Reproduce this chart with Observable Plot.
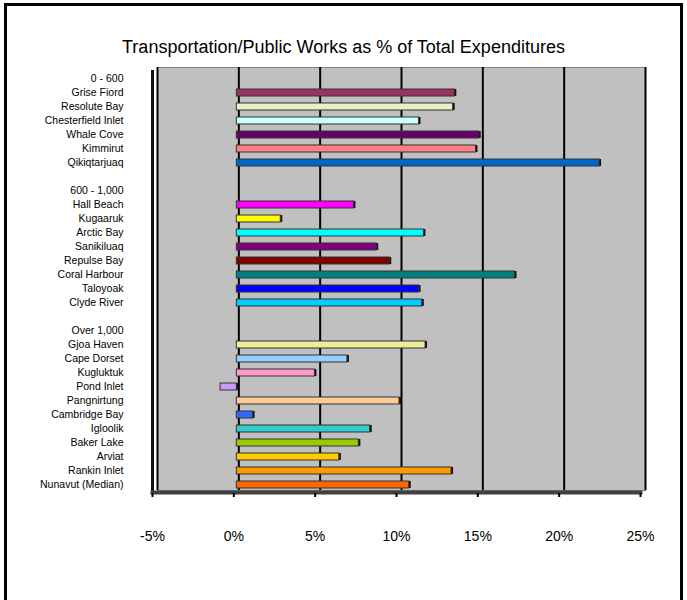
<!DOCTYPE html>
<html>
<head>
<meta charset="utf-8">
<script src="https://cdn.jsdelivr.net/npm/d3@7"></script>
<script src="https://cdn.jsdelivr.net/npm/@observablehq/plot@0.6"></script>
<style>
  html, body { margin: 0; padding: 0; background: #fff; }
  #wrap { position: relative; width: 687px; height: 600px; overflow: hidden; font-family: "Liberation Sans", Arial, sans-serif; }
  #border { position: absolute; left: 4px; top: 3px; width: 679px; height: 620px; border: 3px solid #000; box-sizing: border-box; }
  #title { position: absolute; left: 0; width: 687px; top: 37px; text-align: center; font-size: 18px; color: #000; }
  #chart { position: absolute; left: 0; top: 0; }
</style>
</head>
<body>
<div id="wrap">
  <div id="border"></div>
  <div id="chart"></div>
  <div id="title">Transportation/Public Works as % of Total Expenditures</div>
</div>
<script>
// Group headers
const groupLabels = ["0 - 600", "600 - 1,000", "Over 1,000"];

// Communities by population group (top to bottom)
const group1Names = ["Grise Fiord", "Resolute Bay", "Chesterfield Inlet", "Whale Cove", "Kimmirut", "Qikiqtarjuaq"];
const group1Values = [13.4, 13.3, 11.2, 14.9, 14.7, 22.3];

const group2Names = ["Hall Beach", "Kugaaruk", "Arctic Bay", "Sanikiluaq", "Repulse Bay", "Coral Harbour", "Taloyoak", "Clyde River"];
const group2Values = [7.2, 2.7, 11.5, 8.6, 9.4, 17.1, 11.2, 11.4];

const group3Names = ["Gjoa Haven", "Cape Dorset", "Kugluktuk", "Pond Inlet", "Pangnirtung", "Cambridge Bay", "Igloolik", "Baker Lake", "Arviat", "Rankin Inlet", "Nunavut (Median)"];
const group3Values = [11.6, 6.8, 4.8, -1.0, 10.0, 1.0, 8.2, 7.5, 6.3, 13.2, 10.6];

// Bar colours (same order as communities)
const group1Colors = ["#993366", "#EEEEC4", "#CCFFFF", "#660066", "#FF8080", "#0066CC"];
const group2Colors = ["#FF00FF", "#FFFF00", "#00FFFF", "#800080", "#800000", "#008080", "#0000FF", "#00CCFF"];
const group3Colors = ["#EEEE99", "#99CCFF", "#FF99CC", "#CC99FF", "#FFCC99", "#3366FF", "#33CCCC", "#99CC00", "#FFCC00", "#FF9900", "#FF6600"];

// X axis ticks
const xTicks = [-5, 0, 5, 10, 15, 20, 25];

// Build rows (headers, communities, blank separators)
const groupsNames = [group1Names, group2Names, group3Names];
const groupsValues = [group1Values, group2Values, group3Values];
const groupsColors = [group1Colors, group2Colors, group3Colors];
const rowIds = [];
const bars = [];
groupLabels.forEach((g, gi) => {
  rowIds.push(g);
  groupsNames[gi].forEach((n, i) => {
    rowIds.push(n);
    bars.push({name: n, value: groupsValues[gi][i], color: groupsColors[gi][i]});
  });
  if (gi < groupLabels.length - 1) rowIds.push("__blank" + gi);
});

const chart = Plot.plot({
  width: 687,
  height: 600,
  marginLeft: 152,
  marginRight: 47,
  marginTop: 70,
  marginBottom: 107,
  style: {fontFamily: "'Liberation Sans', Arial, sans-serif", background: "transparent", color: "#000"},
  x: {domain: [-5, 25], label: null},
  y: {type: "band", domain: rowIds, paddingInner: 0.5, paddingOuter: 0.25, label: null},
  marks: [
    // back wall
    Plot.frame({fill: "#c0c0c0", stroke: "#808080", dx: 5, dy: -3}),
    Plot.ruleX(xTicks, {stroke: "#000", strokeWidth: 2, dx: 5, dy: -3}),
    // left side wall edge
    Plot.ruleX([-5], {stroke: "#111", strokeWidth: 3}),
    // floor
    Plot.frame({anchor: "bottom", stroke: "#404040", strokeWidth: 4, dy: -1}),
    // bar depth shadow
    Plot.barX(bars, {y: "name", x1: 0, x2: "value", fill: "#111", dx: 5, dy: 0}),
    // bars
    Plot.barX(bars, {y: "name", x1: 0, x2: "value", fill: "color", stroke: "#333", strokeWidth: 1, dx: 3}),
    Plot.axisX({ticks: xTicks, tickFormat: d => d + "%", tickSize: 4, tickPadding: 34, fontSize: 14, stroke: "#000", strokeWidth: 2, label: null}),
    Plot.axisY({tickSize: 0, tickPadding: 29, fontSize: 10.5, tickFormat: d => d.startsWith("__") ? "" : d, label: null})
  ]
});
document.getElementById("chart").appendChild(chart);
</script>
</body>
</html>
